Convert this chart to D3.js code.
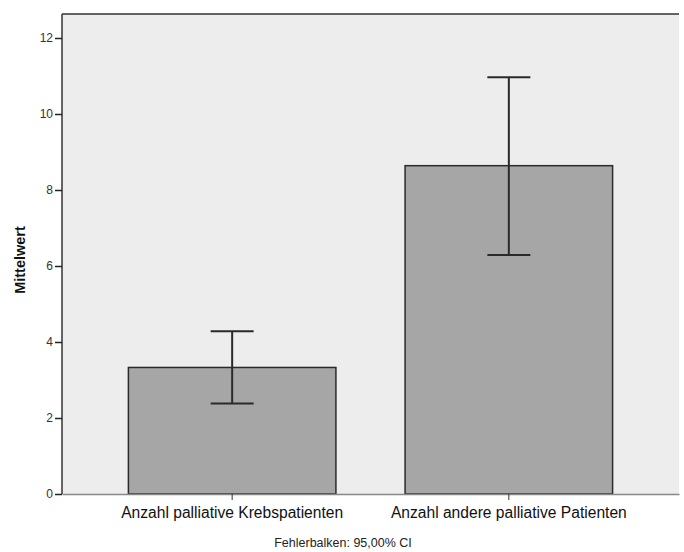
<!DOCTYPE html>
<html><head><meta charset="utf-8">
<script src="https://cdn.jsdelivr.net/npm/d3@7"></script>
<style>body{margin:0;background:#fff}svg{display:block}text{font-family:Arial,"Liberation Sans",sans-serif}</style>
</head><body><svg id="c" width="684" height="552"></svg>
<script>
const categories = ["Anzahl palliative Krebspatienten", "Anzahl andere palliative Patienten"];
const means = [3.33, 8.64];
const ciLow = [2.38, 6.29];
const ciHigh = [4.28, 10.97];
const yTicks = [0, 2, 4, 6, 8, 10, 12];

const svg = d3.select("#c");
const L = 62, R = 679, T = 14, B = 494;
const y = d3.scaleLinear().domain([0, 12]).range([B, 38]);
const x = d3.scaleBand().domain(categories).range([L, R]).paddingInner(0.25).paddingOuter(0.24);

svg.append("rect").attr("x", L).attr("y", T).attr("width", R - L).attr("height", B - T).attr("fill", "#ededed");
svg.append("line").attr("x1", L).attr("x2", R).attr("y1", T).attr("y2", T).attr("stroke", "#333").attr("stroke-width", 1.5);

const data = categories.map((c, i) => ({c, m: means[i], lo: ciLow[i], hi: ciHigh[i]}));

svg.selectAll("rect.bar").data(data).enter().append("rect").attr("class", "bar")
  .attr("x", d => x(d.c)).attr("width", x.bandwidth())
  .attr("y", d => y(d.m)).attr("height", d => y(0) - y(d.m))
  .attr("fill", "#a6a6a6").attr("stroke", "#2a2a2a").attr("stroke-width", 1.5);

const eb = svg.selectAll("g.eb").data(data).enter().append("g").attr("class", "eb")
  .attr("stroke", "#2a2a2a").attr("stroke-width", 2);
const cx = d => x(d.c) + x.bandwidth() / 2;
eb.append("line").attr("x1", cx).attr("x2", cx).attr("y1", d => y(d.lo)).attr("y2", d => y(d.hi));
eb.append("line").attr("x1", d => cx(d) - 21.5).attr("x2", d => cx(d) + 21.5).attr("y1", d => y(d.lo)).attr("y2", d => y(d.lo));
eb.append("line").attr("x1", d => cx(d) - 21.5).attr("x2", d => cx(d) + 21.5).attr("y1", d => y(d.hi)).attr("y2", d => y(d.hi));

// bottom axis
const xa = svg.append("g").attr("transform", `translate(0,${B})`)
  .call(d3.axisBottom(x).tickSize(6).tickSizeOuter(0));
xa.select(".domain").attr("stroke", "#888").attr("stroke-width", 1.5);
xa.selectAll(".tick line").attr("stroke", "#333");
xa.selectAll(".tick text").attr("font-size", 15.6).attr("fill", "#111").attr("y", 24).attr("dy", 0);

// left axis
const ya = svg.append("g").attr("transform", `translate(${L},0)`)
  .call(d3.axisLeft(y).tickValues(yTicks).tickSize(7).tickSizeOuter(0).tickPadding(2));
ya.select(".domain").attr("stroke", "#333").attr("stroke-width", 1.5).attr("d", `M0,${T}V${B}`);
ya.selectAll(".tick line").attr("stroke", "#222").attr("stroke-width", 1.5);
ya.selectAll(".tick text").attr("font-size", 12).attr("fill", "#333");

svg.append("text").attr("transform", "translate(25,260) rotate(-90)").attr("text-anchor", "middle")
  .attr("font-size", 14.5).attr("font-weight", "bold").attr("fill", "#111").text("Mittelwert");

svg.append("text").attr("x", 343).attr("y", 547).attr("text-anchor", "middle")
  .attr("font-size", 12.5).attr("fill", "#222").text("Fehlerbalken: 95,00% CI");
</script></body></html>
